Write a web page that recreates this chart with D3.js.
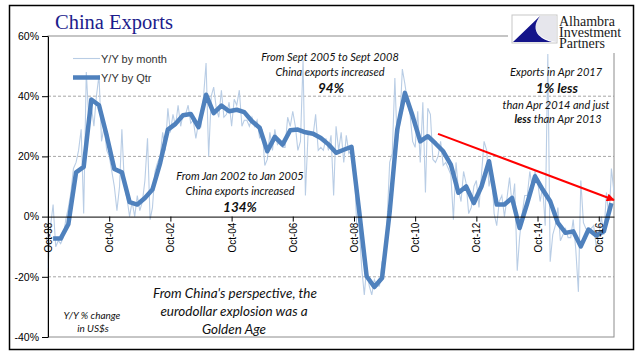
<!DOCTYPE html>
<html>
<head>
<meta charset="utf-8">
<script src="https://cdn.jsdelivr.net/npm/d3@7"></script>
<style>
body { margin: 0; background: #fff; }
svg { display: block; }
.ann { font-family: Lato, "Open Sans", sans-serif; font-style: italic; fill: #111; }
</style>
</head>
<body>
<svg id="chart" width="641" height="361"></svg>
<script>
// monthly Y/Y %, Oct 1998 .. Apr 2017
var monthStart = new Date(1998, 9, 1);
var monthlyYoY = [
    -17, -3, 4,
    -10, -8, -9, -7, -1, 3, 8, 16, 18, 22, 29, 1,
    48, 32, 37, 30, 40, 47, 25, 30, 22, 20, 15, 10,
    2, 10, 29, 10, 6, 0, 5, 0, 7, 2, 5, 12,
    26, -1, 3, 15, 18, 20, 28, 22, 36, 28, 34, 30,
    37, 30, 34, 34, 37, 31, 32, 26, 31, 30, 40, 51,
    20, 40, 43, 36, 33, 42, 33, 34, 38, 30, 39, 37,
    42, 30, 32, 32, 30, 33, 30, 32, 26, 29, 17, 19,
    28, 22, 29, 24, 25, 23, 23, 33, 30, 35, 30, 22,
    25, 52, 7, 27, 28, 27, 34, 22, 23, 22, 26, 22,
    27, 7, 30, 22, 28, 18, 27, 21, 22, 19, -2, -3,
    -17, -26, -17, -23, -26, -21, -23, -23, -15, -14, -1, 18,
    21, 46, 24, 31, 49, 44, 38, 34, 25, 23, 35, 18,
    38, 8, 36, 34, 19, 18, 20, 25, 17, 18, 16, 14,
    -1, 18, 9, 5, 15, 11, 1, 3, 10, 12, 3, 14,
    25, 22, 10, 15, 1, -3, 5, 7, 0, 6, 13, 4,
    11, -18, -7, 1, 7, 7, 15, 9, 15, 12, 5, 10,
    -3, 54, -15, -6, -3, 3, -8, -6, -4, -7, -7, -1,
    -11, -25, 12, -2, -4, -5, -4, -3, -10, -7, 0, -6,
    8, -1, 16, 8
];

// quarterly Y/Y %, Q4 1998 .. Q1 2017 (plotted at quarter-end month)
var qtrYoY = [
    -7.3, -7.3, -2.5, 14.7, 16.5, 38.9, 37, 26.9, 15.8, 14.7,
    4.8, 4.0, 6.2, 9.0, 17.8, 28.9, 30.8, 33.7, 34.1, 29.7,
    40.5, 34.4, 36.9, 35, 35.5, 34.7, 31.7, 29.5, 21.7, 26.5,
    23.9, 28.7, 28.9, 28, 27.5, 26.1, 24, 21.2, 22.2, 23.2,
    2.0, -19.8, -23.4, -20.4, 1.5, 28.9, 41.1, 33.4, 25, 26.7,
    24.3, 21.7, 17.3, 7.9, 10, 4.5, 10, 18.4, 4, 4,
    6.2, -3.8, 4.5, 13.4, 9, 5.1, -2.1, -5.4, -4.9, -9.9,
    -4.3, -6.3, -4.9, 4.5
];

var xTickLabels = ["Oct-98", "Oct-00", "Oct-02", "Oct-04", "Oct-06", "Oct-08", "Oct-10", "Oct-12", "Oct-14", "Oct-16"];
var yTicks = [-40, -20, 0, 20, 40, 60];
var gridValues = [40, 20, -20];
var legendLabels = ["Y/Y by month", "Y/Y by Qtr"];
var logoLines = ["Alhambra", "Investment", "Partners"];

var svg = d3.select("#chart"),
    plot = { left: 48, right: 614, top: 36, bottom: 337 };

var monthly = monthlyYoY.map(function(v, i) {
    return { date: d3.timeMonth.offset(monthStart, i), value: v };
});
var quarterly = qtrYoY.map(function(v, i) {
    return { date: d3.timeMonth.offset(monthStart, 2 + 3 * i), value: v };
});
var xTickDates = xTickLabels.map(function(d, i) { return new Date(1998 + 2 * i, 9, 1); });

var x = d3.scaleTime()
    .domain([monthStart, new Date(2017, 3, 1)])
    .range([plot.left, plot.right]);
var y = d3.scaleLinear()
    .domain([-40, 60])
    .range([plot.bottom, plot.top]);

// gridlines
svg.append("g").selectAll("line")
    .data(gridValues)
    .enter().append("line")
    .attr("x1", plot.left).attr("x2", plot.right)
    .attr("y1", function(d) { return y(d); })
    .attr("y2", function(d) { return y(d); })
    .attr("stroke", "#a6a6a6")
    .attr("stroke-dasharray", "3,2");

// plot area border
svg.append("rect")
    .attr("x", plot.left).attr("y", plot.top)
    .attr("width", plot.right - plot.left)
    .attr("height", plot.bottom - plot.top)
    .attr("fill", "none")
    .attr("stroke", "#8c8c8c");

var line = d3.line()
    .x(function(d) { return x(d.date); })
    .y(function(d) { return y(d.value); });

svg.append("path")
    .datum(monthly)
    .attr("d", line)
    .attr("fill", "none")
    .attr("stroke", "#b9cde5")
    .attr("stroke-width", 1.1);

svg.append("path")
    .datum(quarterly)
    .attr("d", line)
    .attr("fill", "none")
    .attr("stroke", "#4f81bd")
    .attr("stroke-width", 4.5)
    .attr("stroke-linejoin", "round");

// y axis
var yAxis = d3.axisLeft(y)
    .tickValues(yTicks)
    .tickFormat(function(d) { return d + "%"; })
    .tickSize(6)
    .tickSizeOuter(0)
    .tickPadding(3);

var gy = svg.append("g")
    .attr("transform", "translate(" + plot.left + ",0)")
    .call(yAxis);
gy.selectAll("path, line").attr("stroke", "#000");
gy.selectAll("text")
    .attr("font-family", "'Liberation Sans', Arial, sans-serif")
    .attr("font-size", 10.5)
    .attr("fill", "#000");

// x axis at 0%
var xAxis = d3.axisBottom(x)
    .tickValues(xTickDates)
    .tickFormat(function(d, i) { return xTickLabels[i]; })
    .tickSize(5)
    .tickSizeOuter(0);

var gx = svg.append("g")
    .attr("transform", "translate(0," + y(0) + ")")
    .call(xAxis);
gx.selectAll("path, line").attr("stroke", "#000");
gx.selectAll("text")
    .attr("font-family", "'Liberation Sans', Arial, sans-serif")
    .attr("font-size", 10)
    .attr("fill", "#000")
    .attr("transform", "rotate(-90)")
    .attr("text-anchor", "end")
    .attr("x", -6)
    .attr("y", 0)
    .attr("dy", "0.35em");

// red trend arrow
svg.append("defs").append("marker")
    .attr("id", "arrow")
    .attr("viewBox", "0 0 10 10")
    .attr("refX", 9).attr("refY", 5)
    .attr("markerWidth", 9).attr("markerHeight", 8)
    .attr("markerUnits", "userSpaceOnUse")
    .attr("orient", "auto")
    .append("path")
    .attr("d", "M0,0 L10,5 L0,10 z")
    .attr("fill", "#ff0000");

svg.append("line")
    .attr("x1", x(new Date(2011, 6, 1))).attr("y1", y(27.5))
    .attr("x2", x(new Date(2017, 3, 1))).attr("y2", y(5.5))
    .attr("stroke", "#ff0000")
    .attr("stroke-width", 2)
    .attr("marker-end", "url(#arrow)");

// annotations: [x, y, text, size, bold]
function note(lines) {
    lines.forEach(function(l) {
        var t = svg.append("text")
            .attr("class", "ann")
            .attr("x", l[0]).attr("y", l[1])
            .attr("text-anchor", "middle")
            .attr("font-size", l[3]);
        if (l[4]) t.attr("font-weight", "bold");
        if (Array.isArray(l[2])) {
            l[2].forEach(function(p) {
                t.append("tspan").attr("font-weight", p[1] ? "bold" : null).text(p[0]);
            });
        } else {
            t.text(l[2]);
        }
    });
}

note([
    [330, 61, "From Sept 2005 to Sept 2008", 11],
    [330, 76, "China exports increased", 11],
    [331, 93, "94%", 13.5, true],
    [240, 180, "From Jan 2002 to Jan 2005", 11],
    [240, 195, "China exports increased", 11],
    [240, 212, "134%", 13.5, true],
    [556, 76, "Exports in Apr 2017", 11],
    [557, 93, "1% less", 13.5, true],
    [556, 109, "than Apr 2014 and just", 11],
    [558, 123, [["less", true], [" than Apr 2013", false]], 11],
    [235, 298, "From China's perspective, the", 13.5],
    [234, 316, "eurodollar explosion was a", 13.5],
    [234, 334, "Golden Age", 13.5],
    [92, 319, "Y/Y % change", 10],
    [93, 332, "in US$s", 10]
]);

// legend
var legend = svg.append("g");
legend.append("line")
    .attr("x1", 73).attr("x2", 100).attr("y1", 58.5).attr("y2", 58.5)
    .attr("stroke", "#b9cde5").attr("stroke-width", 1.1);
legend.append("line")
    .attr("x1", 73).attr("x2", 100).attr("y1", 77.5).attr("y2", 77.5)
    .attr("stroke", "#4f81bd").attr("stroke-width", 4.5);
legend.selectAll("text")
    .data(legendLabels)
    .enter().append("text")
    .attr("x", 101)
    .attr("y", function(d, i) { return 62.5 + i * 19; })
    .attr("font-family", "'Liberation Sans', Arial, sans-serif")
    .attr("font-size", 11)
    .attr("fill", "#333")
    .text(function(d) { return d; });

// logo
var logo = svg.append("g");
logo.append("rect")
    .attr("x", 508).attr("y", 8).attr("width", 124).attr("height", 45)
    .attr("fill", "#fff");
logo.append("rect")
    .attr("x", 512).attr("y", 15).attr("width", 45).attr("height", 28)
    .attr("fill", "#fff").attr("stroke", "#c8c8c8");
logo.append("path")
    .attr("d", "M540,16 C531,28 536,38 556,42 L556,16 Z")
    .attr("fill", "#e6e6ec");
logo.append("path")
    .attr("d", "M540,16 L513,42 L552,42 C536,38 531,28 540,16 Z")
    .attr("fill", "#14148a");
logo.append("text")
    .attr("y", 25.5)
    .attr("font-family", "'Liberation Serif', 'Times New Roman', serif")
    .attr("font-size", 14)
    .attr("fill", "#1a1a1a")
    .selectAll("tspan")
    .data(logoLines)
    .enter().append("tspan")
    .attr("x", 559)
    .attr("dy", function(d, i) { return i ? 11 : 0; })
    .text(function(d) { return d; });

// title
svg.append("text")
    .attr("x", 55).attr("y", 29)
    .attr("font-family", "'Liberation Serif', 'Times New Roman', serif")
    .attr("font-size", 20.5)
    .attr("fill", "#1c1c8c")
    .text("China Exports");

// outer frame
svg.append("rect")
    .attr("x", 9.5).attr("y", 5.5).attr("width", 624).attr("height", 344)
    .attr("fill", "none")
    .attr("stroke", "#000")
    .attr("stroke-width", 1.5);
</script>
</body>
</html>
